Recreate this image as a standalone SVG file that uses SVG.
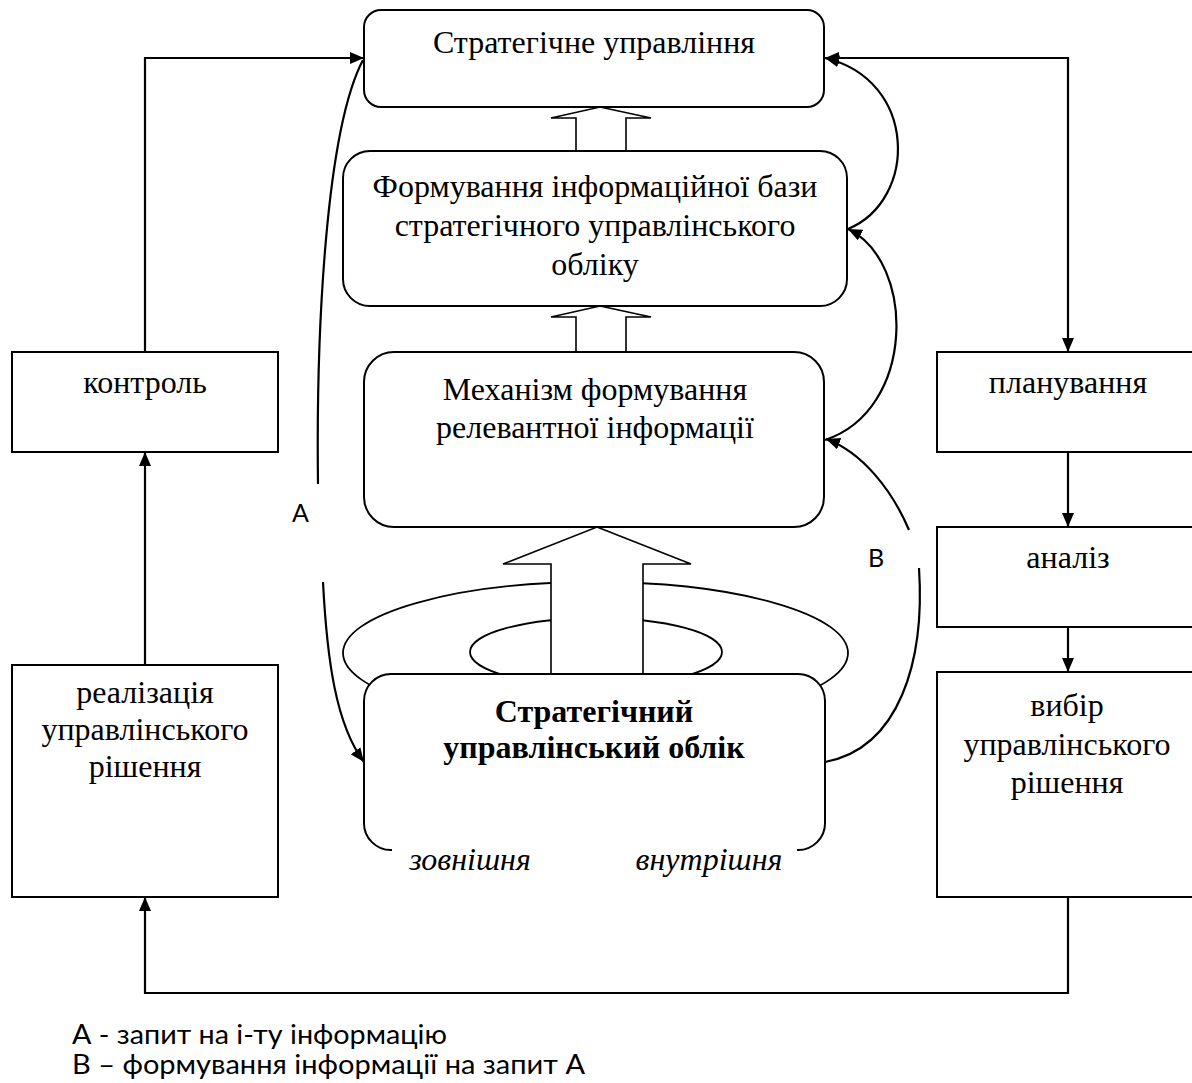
<svg xmlns="http://www.w3.org/2000/svg" width="1192" height="1083" viewBox="0 0 1192 1083">
<style>
.box{fill:#fff;stroke:#000;stroke-width:2}
.hol{fill:#fff;stroke:#000;stroke-width:1.6}
.ell{fill:none;stroke:#000;stroke-width:1.8}
.ln{fill:none;stroke:#000;stroke-width:2.2}
.t{font-family:"Liberation Serif","Times New Roman",serif;font-size:32px;text-anchor:middle;fill:#000}
.b{font-weight:bold}
.i{font-style:italic}
.s{font-family:Lato,"Open Sans",sans-serif;font-size:25px;fill:#000}
.lg{font-size:27px}
</style>
<defs>
<marker id="ah" markerUnits="userSpaceOnUse" markerWidth="16" markerHeight="12" refX="14" refY="6" orient="auto-start-reverse">
<path d="M0,0 L14,6 L0,12 Z" fill="#000"/>
</marker>
</defs>

<g id="ellipses">
<ellipse class="ell" cx="595.5" cy="653" rx="252.5" ry="71"/>
<ellipse class="ell" cx="596" cy="652" rx="126" ry="34"/>
</g>

<g id="hollow-arrows">
<polygon class="hol" points="600,107 651,118 626,118 626,151 576,151 576,118 551,118"/>
<polygon class="hol" points="600,306 651,317 626,317 626,352 576,352 576,317 551,317"/>
<polygon class="hol" points="597,527 691,564 643,564 643,674 551,674 551,564 503,564"/>
</g>

<g id="n-strat-mgmt">
<rect class="box" x="364" y="10" width="460" height="97" rx="17"/>
<text class="t" x="594" y="53">Стратегічне управління</text>
</g>

<g id="n-info-base">
<rect class="box" x="343" y="151" width="504" height="155" rx="27"/>
<text class="t" x="595" y="197">Формування інформаційної бази</text>
<text class="t" x="595" y="236">стратегічного управлінського</text>
<text class="t" x="595" y="275">обліку</text>
</g>

<g id="n-mechanism">
<rect class="box" x="364" y="352" width="460" height="175" rx="30"/>
<text class="t" x="595" y="400">Механізм формування</text>
<text class="t" x="595" y="438">релевантної інформації</text>
</g>

<g id="n-accounting">
<path class="box" d="M392,850 A27,27 0 0 1 364,822 V701 A27,27 0 0 1 391,674 H798 A27,27 0 0 1 825,701 V822 A27,27 0 0 1 797,850"/>
<text class="t b" x="594" y="722">Стратегічний</text>
<text class="t b" x="594" y="758">управлінський облік</text>
<text class="t i" x="470" y="870">зовнішня</text>
<text class="t i" x="709" y="870">внутрішня</text>
</g>

<g id="n-control">
<rect class="box" x="12" y="352" width="266" height="100"/>
<text class="t" x="145" y="393">контроль</text>
</g>

<g id="n-implement">
<rect class="box" x="12" y="665" width="266" height="232"/>
<text class="t" x="145" y="703">реалізація</text>
<text class="t" x="145" y="740">управлінського</text>
<text class="t" x="145" y="777">рішення</text>
</g>

<g id="n-planning">
<rect class="box" x="937" y="352" width="260" height="100"/>
<text class="t" x="1068" y="393">планування</text>
</g>

<g id="n-analysis">
<rect class="box" x="937" y="527" width="260" height="100"/>
<text class="t" x="1068" y="568">аналіз</text>
</g>

<g id="n-choice">
<rect class="box" x="937" y="672" width="260" height="225"/>
<text class="t" x="1067" y="716">вибір</text>
<text class="t" x="1067" y="755">управлінського</text>
<text class="t" x="1067" y="793">рішення</text>
</g>

<g id="connectors">
<polyline class="ln" points="145,352 145,58 364,58" marker-end="url(#ah)"/>
<line class="ln" x1="145" y1="665" x2="145" y2="452" marker-end="url(#ah)"/>
<polyline class="ln" points="825,58 1068,58 1068,352" marker-start="url(#ah)" marker-end="url(#ah)"/>
<line class="ln" x1="1068" y1="452" x2="1068" y2="527" marker-end="url(#ah)"/>
<line class="ln" x1="1068" y1="627" x2="1068" y2="672" marker-end="url(#ah)"/>
<polyline class="ln" points="1068,897 1068,993 145,993 145,897" marker-end="url(#ah)"/>
<path class="ln" d="M318,484 C316,330 326,130 363,60"/>
<path class="ln" d="M323,582 C327,660 336,725 364,762" marker-end="url(#ah)"/>
<path class="ln" d="M848,229 C918,200 918,80 825,58" marker-end="url(#ah)"/>
<path class="ln" d="M825,440 C916,410 916,262 848,229" marker-end="url(#ah)"/>
<path class="ln" d="M909,530 C892,490 862,452 826,439" marker-end="url(#ah)"/>
<path class="ln" d="M919,568 C925,660 900,748 825,762"/>
<text class="s" x="292" y="522">A</text>
<text class="s" x="868" y="567">B</text>
</g>

<g id="legend">
<text class="s lg" x="72" y="1044" textLength="375" lengthAdjust="spacingAndGlyphs">А - запит на і-ту інформацію</text>
<text class="s lg" x="72" y="1074" textLength="513" lengthAdjust="spacingAndGlyphs">В – формування інформації на запит А</text>
</g>
</svg>
